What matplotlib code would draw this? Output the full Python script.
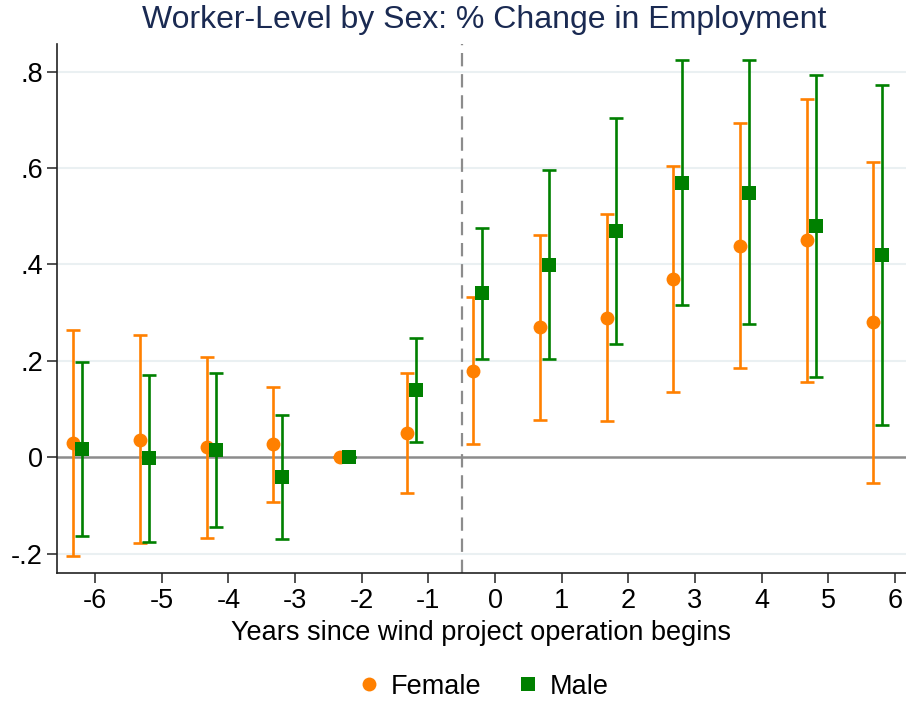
import numpy as np
import matplotlib.pyplot as plt

plt.rcParams['font.family'] = ['Liberation Sans', 'DejaVu Sans']

years = np.arange(-6, 7)

# Female estimates and 95% CI bounds
female = [0.030, 0.037, 0.021, 0.028, 0.0, 0.051, 0.180, 0.270, 0.290, 0.370, 0.439, 0.450, 0.280]
female_lo = [-0.205, -0.178, -0.167, -0.092, 0.0, -0.073, 0.028, 0.078, 0.075, 0.135, 0.185, 0.156, -0.053]
female_hi = [0.265, 0.253, 0.209, 0.146, 0.0, 0.175, 0.333, 0.462, 0.505, 0.604, 0.694, 0.743, 0.612]

# Male estimates and 95% CI bounds
male = [0.018, -0.002, 0.015, -0.041, 0.0, 0.140, 0.340, 0.399, 0.470, 0.569, 0.549, 0.479, 0.420]
male_lo = [-0.162, -0.176, -0.145, -0.169, 0.0, 0.032, 0.204, 0.204, 0.235, 0.315, 0.276, 0.166, 0.068]
male_hi = [0.198, 0.171, 0.176, 0.088, 0.0, 0.247, 0.475, 0.595, 0.704, 0.823, 0.823, 0.793, 0.772]

orange = '#FF8000'
green = '#008000'

fig = plt.figure(figsize=(9.06, 7.02), dpi=100)
ax = fig.add_axes([0.0626, 0.1842, 0.9374, 0.7538])

for y in [-0.2, 0.2, 0.4, 0.6, 0.8]:
    ax.axhline(y, color='#EAF0F2', lw=1.5, zorder=0)
ax.axhline(0, color='#8C8C8C', lw=1.8, zorder=1)
ax.axvline(-0.5, color='#8C8C8C', lw=1.6, ls=(0, (6, 3.5)), zorder=1)

def draw(xs, est, lo, hi, color, marker, ms, label):
    est = np.array(est)
    err = [est - np.array(lo), np.array(hi) - est]
    ax.errorbar(xs, est, yerr=err, fmt='none', ecolor=color, elinewidth=1.9,
                capsize=5, capthick=1.9, zorder=2)
    ax.plot(xs, est, ls='none', marker=marker, ms=ms, color=color,
            markeredgewidth=0, label=label, zorder=3)

draw(years - 0.325, female, female_lo, female_hi, orange, 'o', 10, 'Female')
draw(years - 0.19, male, male_lo, male_hi, green, 's', 10, 'Male')

ax.set_xlim(-6.575, 6.165)
ax.set_ylim(-0.239, 0.858)
ax.set_xticks(years)
ax.set_xticklabels([str(v) for v in years])
ax.set_yticks([-0.2, 0, 0.2, 0.4, 0.6, 0.8])
ax.set_yticklabels(['-.2', '0', '.2', '.4', '.6', '.8'])
ax.tick_params(axis='both', labelsize=19.5, length=7, width=1.2, color='#333333')
ax.tick_params(axis='x', pad=4)
ax.tick_params(axis='y', pad=3)

for s in ['top', 'right']:
    ax.spines[s].set_visible(False)
for s in ['left', 'bottom']:
    ax.spines[s].set_linewidth(1.2)
    ax.spines[s].set_color('#222222')

ax.set_xlabel('Years since wind project operation begins', fontsize=19.5, labelpad=4)
fig.suptitle('Worker-Level by Sex: % Change in Employment', fontsize=23,
             color='#1A2A52', x=0.534, y=0.993)

fig.legend(loc='center', bbox_to_anchor=(0.532, 0.022), ncol=2, frameon=False,
           fontsize=19.5, handletextpad=0.3, columnspacing=1.2, handlelength=1.0)

fig.savefig('out.png', dpi=100)
